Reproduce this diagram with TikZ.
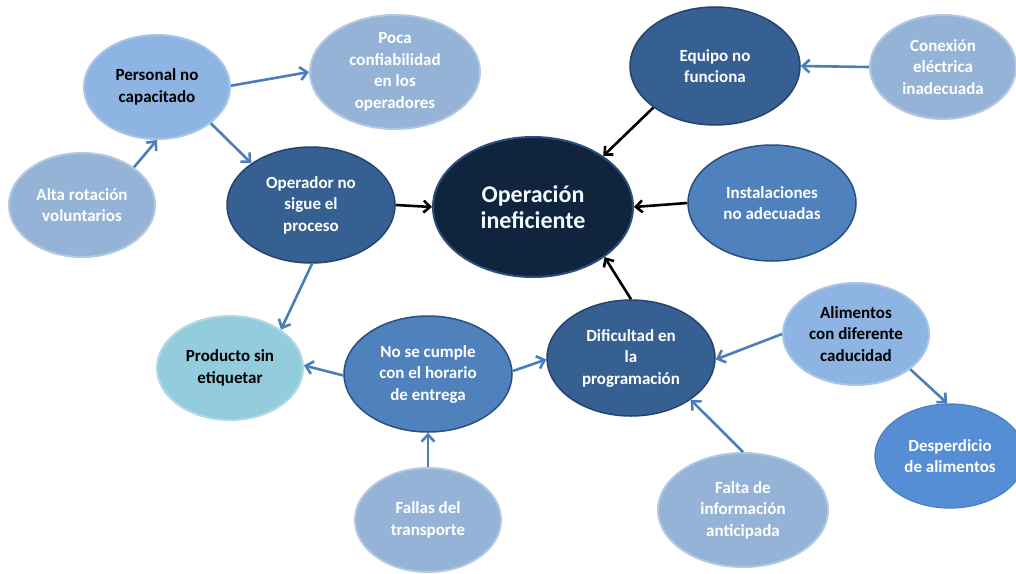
\documentclass[tikz,border=0pt]{standalone}
\usepackage{fontspec}
\setmainfont{Carlito}
\usetikzlibrary{shapes.geometric,arrows.meta}

\definecolor{navyfill}{HTML}{10243E}
\definecolor{navyline}{HTML}{2A4F7E}
\definecolor{darkfill}{HTML}{366092}
\definecolor{darkline}{HTML}{244370}
\definecolor{midfill}{HTML}{4F81BD}
\definecolor{midline}{HTML}{2B4F7E}
\definecolor{palefill}{HTML}{95B3D7}
\definecolor{paleline}{HTML}{B3C8E2}
\definecolor{skyfill}{HTML}{8DB4E2}
\definecolor{skyline}{HTML}{A8C4E8}
\definecolor{tealfill}{HTML}{93CDDD}
\definecolor{tealline}{HTML}{B0D9E6}
\definecolor{brightfill}{HTML}{558ED5}
\definecolor{brightline}{HTML}{4A7FC0}
\definecolor{linkblue}{HTML}{4A7EBB}

\tikzset{
  bubble/.style={ellipse, inner sep=0pt, align=center,
    font=\fontsize{17}{21.5}\selectfont\bfseries},
  small/.style={minimum width=146pt, minimum height=104pt},
  large/.style={minimum width=168pt, minimum height=116pt},
  darkbub/.style={bubble, fill=darkfill, draw=darkline, line width=1.5pt, text=white},
  midbub/.style={bubble, fill=midfill, draw=midline, line width=1.5pt, text=white},
  palebub/.style={bubble, fill=palefill, draw=paleline, line width=2pt, text=white},
  skybub/.style={bubble, fill=skyfill, draw=skyline, line width=2pt, text=black},
  tealbub/.style={bubble, fill=tealfill, draw=tealline, line width=2pt, text=black},
  brightbub/.style={bubble, fill=brightfill, draw=brightline, line width=1.3pt, text=white},
  mainbub/.style={bubble, fill=navyfill, draw=navyline, line width=2pt,
    text=white!95!cyan, minimum width=200pt, minimum height=140pt,
    font=\fontsize{24}{25.5}\selectfont\bfseries},
  bluelink/.style={draw=linkblue, line width=2.6pt,
    -{Straight Barb[length=7pt,width=13pt]}},
  blacklink/.style={draw=black, line width=2.6pt,
    -{Straight Barb[length=6.5pt,width=12pt]}},
}

\begin{document}
\begin{tikzpicture}[x=1pt,y=-1pt]
\useasboundingbox (0,0) rectangle (1016,573);

% central effect
\node[mainbub] (main) at (533,207) {Operación\\ineficiente};

% direct causes
\node[darkbub, large] (oper) at (311,205) {Operador no\\sigue el\\proceso};
\node[darkbub, minimum width=170pt, minimum height=118pt] (equip) at (715,66) {Equipo no\\funciona};
\node[midbub, large] (inst) at (772,203) {Instalaciones\\no adecuadas};
\node[darkbub, large] (dif) at (631,358) {Dificultad en\\la\\programación};

% secondary causes and effects
\node[skybub, small] (pers) at (157,87) {Personal no\\capacitado};
\node[palebub, minimum width=170pt, minimum height=114pt] (poca) at (395,72) {Poca\\confiabilidad\\en los\\operadores};
\node[palebub, small] (alta) at (82,205) {Alta rotación\\voluntarios};
\node[palebub, small] (conex) at (943,67) {Conexión\\eléctrica\\inadecuada};
\node[tealbub, small] (prod) at (230,368) {Producto sin\\etiquetar};
\node[midbub, large] (nose) at (428,374) {No se cumple\\con el horario\\de entrega};
\node[palebub, small] (fallas) at (428,520) {Fallas del\\transporte};
\node[skybub, minimum width=146pt, minimum height=102pt] (alim) at (856,334) {Alimentos\\con diferente\\caducidad};
\node[brightbub, minimum width=150pt, minimum height=104pt] (desp) at (950,456) {Desperdicio\\de alimentos};
\node[palebub, minimum width=170pt, minimum height=114pt] (falta) at (743,510) {Falta de\\información\\anticipada};

% links into the central effect
\draw[blacklink] (oper.0) -- (main.180);
\draw[blacklink] (equip.-146) -- (main.36);
\draw[blacklink] (inst.180) -- (main.0);
\draw[blacklink] (dif.90) -- (main.-35);

% remaining links
\draw[bluelink] (alta.36) -- (pers.-90);
\draw[bluelink] (pers.1) -- (poca.180);
\draw[bluelink] (pers.-34) -- (oper.145);
\draw[bluelink] (oper.-89) -- (prod.37);
\draw[bluelink] (nose.181) -- (prod.2);
\draw[bluelink] (fallas.90) -- (nose.-90);
\draw[bluelink] (nose.2) -- (dif.181);
\draw[bluelink] (alim.180) -- (dif.-1);
\draw[bluelink] (falta.90) -- (dif.-35);
\draw[bluelink] (alim.-33) -- (desp.93);
\draw[bluelink] (conex.180) -- (equip.0);
\end{tikzpicture}
\end{document}
